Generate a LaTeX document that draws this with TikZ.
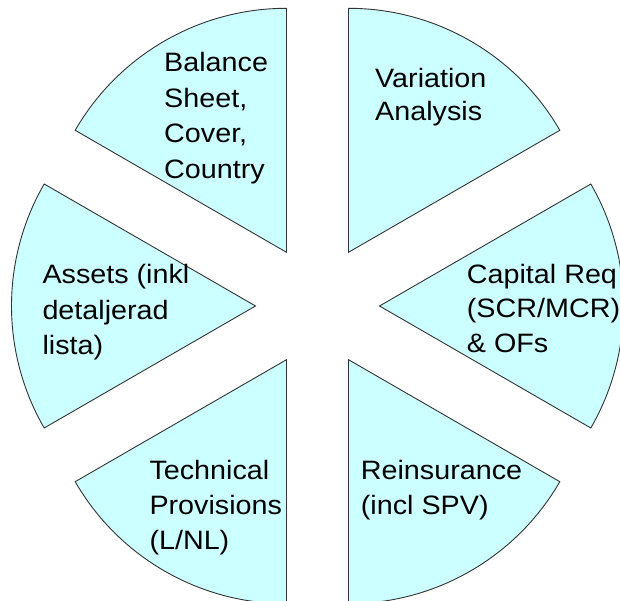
\documentclass[tikz,border=0pt]{standalone}
\usepackage{fontspec}
\setmainfont{Liberation Sans}
\newfontfamily\labfont[FakeStretch=1.08]{Liberation Sans}
\usepackage{tikz}
\usetikzlibrary{calc}
\definecolor{slice}{HTML}{CCFFFF}
\definecolor{edge}{HTML}{333333}
\tikzset{
  wedge/.style={fill=slice, draw=edge, line width=0.9pt},
  lab/.style={anchor=base west, align=left, inner sep=0pt, text=black,
    font=\labfont\fontsize{26.6}{35.6}\selectfont},
}

\begin{document}
\begin{tikzpicture}[x=1pt, y=1pt]
  \useasboundingbox (0,0) rectangle (620,601);
  \clip (0,0) rectangle (620,601);
  \coordinate (C) at (317.5,295);

  % six exploded slices of radius 244, pushed out 62 along their bisectors
  \foreach \a in {30,90,...,330} {
    \draw[wedge] ($(C)+(\a+30:62)$) -- ++(\a:244)
      arc[start angle=\a, end angle=\a+60, radius=244] -- cycle;
  }

  % labels sit on the baseline of their last line
  \node[lab] (bal) at (164,422.5) {Balance\\Sheet,\\Cover,\\Country};
  \node[lab, font=\labfont\fontsize{26.6}{33.3}\selectfont] (var) at (375,480.4) {Variation\\Analysis};
  \node[lab, font=\labfont\fontsize{26.6}{35.8}\selectfont] (ass) at (42.3,246.1) {Assets (inkl\\detaljerad\\lista)};
  \node[lab, font=\labfont\fontsize{26.6}{34.7}\selectfont] (cap) at (466.7,248.3) {Capital Req\\(SCR/MCR)\\\& OFs};
  \node[lab, font=\labfont\fontsize{26.6}{35}\selectfont] (tec) at (149.3,51) {Technical\\Provisions\\(L/NL)};
  \node[lab, font=\labfont\fontsize{26.6}{35}\selectfont] (rei) at (360.7,86) {Reinsurance\\(incl SPV)};
\end{tikzpicture}
\end{document}
